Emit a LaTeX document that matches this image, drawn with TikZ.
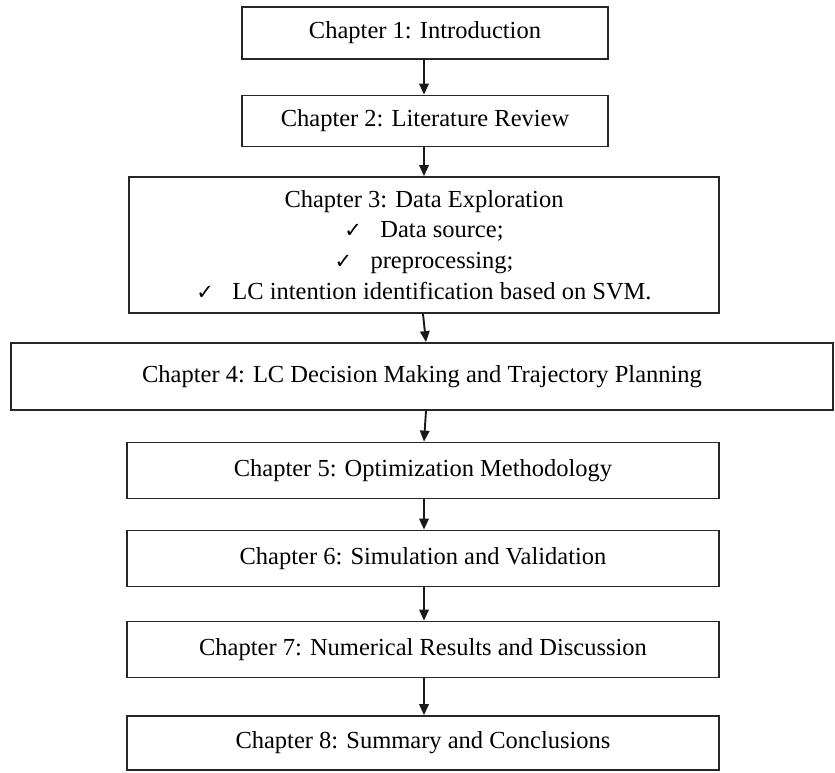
\documentclass[tikz,border=0pt]{standalone}
\usepackage{fontspec}
\setmainfont{Liberation Serif}
\newfontfamily\symfont{DejaVu Sans}
\usetikzlibrary{arrows.meta}
\newcommand{\chk}{{\symfont\fontsize{21}{31}\selectfont ✓}\hspace{0.75em}}
\begin{document}
\begin{tikzpicture}[x=1pt,y=-1pt,
  box/.style={draw=black!85, line width=1.8pt, inner sep=0pt, align=center,
    font=\fontsize{24.5}{30.8}\selectfont},
  arr/.style={-{Triangle[length=11pt,width=9.5pt]}, line width=1.9pt, draw=black!90, fill=black!90}]
\useasboundingbox (0,0) rectangle (835,772);

\node[box, minimum width=366pt, minimum height=52pt] (b1) at (425,33) {Chapter 1: Introduction};
\node[box, minimum width=366pt, minimum height=51pt] (b2) at (425,121) {Chapter 2: Literature Review};
\node[box, minimum width=590pt, minimum height=136pt] (b3) at (424,245)
  {Chapter 3: Data Exploration\\ \chk Data source;\\ \chk preprocessing;\\ \chk LC intention identification based on SVM.};
\node[box, minimum width=822pt, minimum height=67pt] (b4) at (422,376.5) {Chapter 4: LC Decision Making and Trajectory Planning};
\node[box, minimum width=592pt, minimum height=56pt] (b5) at (423,470.5) {Chapter 5: Optimization Methodology};
\node[box, minimum width=592pt, minimum height=56pt] (b6) at (423,558.5) {Chapter 6: Simulation and Validation};
\node[box, minimum width=592pt, minimum height=56pt] (b7) at (423,649.5) {Chapter 7: Numerical Results and Discussion};
\node[box, minimum width=592pt, minimum height=54pt] (b8) at (423,743) {Chapter 8: Summary and Conclusions};

\draw[arr] ([xshift=-1pt]b1.south) -- ([xshift=-1pt]b2.north);
\draw[arr] ([xshift=-1pt]b2.south) -- (b3.north);
\draw[arr] ([xshift=-1pt]b3.south) -- ([xshift=4pt]b4.north);
\draw[arr] ([xshift=4pt]b4.south) -- ([xshift=1pt]b5.north);
\draw[arr] ([xshift=1pt]b5.south) -- ([xshift=1pt]b6.north);
\draw[arr] ([xshift=1pt]b6.south) -- ([xshift=1pt]b7.north);
\draw[arr] ([xshift=1pt]b7.south) -- ([xshift=1pt]b8.north);
\end{tikzpicture}
\end{document}
